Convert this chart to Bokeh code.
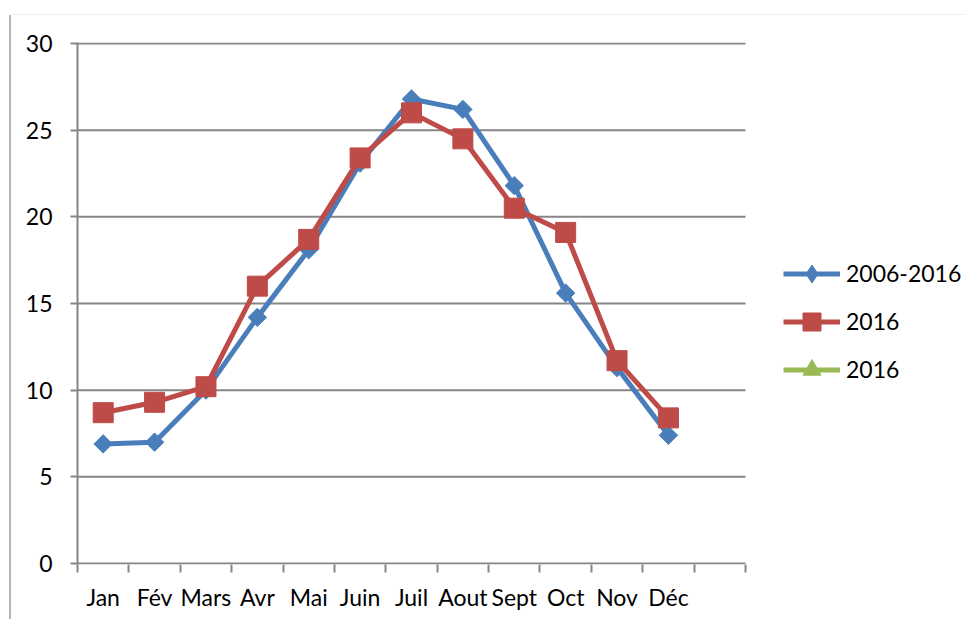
import math
from bokeh.plotting import figure
from bokeh.models import Range1d, FixedTicker, Legend, LegendItem, ColumnDataSource
from bokeh.embed import file_html
from bokeh.resources import INLINE

months = ["Jan", "Fév", "Mars", "Avr", "Mai", "Juin", "Juil", "Aout", "Sept", "Oct", "Nov", "Déc"]
series_2006_2016 = [6.9, 7.0, 10.0, 14.2, 18.1, 23.1, 26.8, 26.2, 21.8, 15.6, 11.3, 7.4]
series_2016 = [8.7, 9.3, 10.2, 16.0, 18.7, 23.4, 26.0, 24.5, 20.5, 19.1, 11.7, 8.4]
series_labels = ["2006-2016", "2016", "2016"]
y_ticks = [0, 5, 10, 15, 20, 25, 30]

BLUE = "#4A7EBB"
RED = "#BE4B48"
GREEN = "#98B954"
GRID = "#868686"
FONT = "Lato"
FS = "23px"

# layout (pixels)
W, H = 955, 604
BL, BT, FH = 66, 27, 522
SLOT_PX = 668 / 13
FW = W - BL
n_slots = len(months) + 1
x_end = -0.5 + FW / SLOT_PX
y_pad = 0.06

xs = list(range(len(months)))
x_lo, x_hi = -0.5, n_slots - 0.5

p = figure(width=W, height=H, output_backend="svg", toolbar_location=None,
           x_range=Range1d(x_lo, x_end), y_range=Range1d(y_ticks[0] - y_pad, y_ticks[-1] + y_pad),
           min_border_left=BL, min_border_right=0, min_border_top=BT,
           min_border_bottom=H - BT - FH)
p.styles = {"transform": "translate(11px, 15px)",
            "box-shadow": "-2px 0 0 0 #b4b4b4, 0 -1px 0 0 #efefef"}
p.outline_line_color = None
p.background_fill_color = "white"

# horizontal gridlines limited to the category slots
p.segment(x0=[x_lo] * len(y_ticks), x1=[x_hi] * len(y_ticks), y0=y_ticks, y1=y_ticks,
          line_color=GRID, line_width=2)

src = ColumnDataSource(dict(x=xs, a=series_2006_2016, b=series_2016))

blue_line = p.line("x", "a", source=src, line_color=BLUE, line_width=5, line_join="round")
p.scatter("x", "a", source=src, marker="square", angle=math.pi / 4, size=13,
          fill_color=BLUE, line_color=BLUE)
red_line = p.line("x", "b", source=src, line_color=RED, line_width=5, line_join="round")
red_pts = p.scatter("x", "b", source=src, marker="square", size=20, fill_color=RED, line_color=RED)

# legend-only glyphs (no visible data)
nan = float("nan")
blue_leg = p.scatter([nan], [nan], marker="diamond", fill_color=BLUE, line_color=BLUE)
green_line = p.line([nan], [nan], line_color=GREEN, line_width=5)
green_leg = p.scatter([nan], [nan], marker="triangle", fill_color=GREEN, line_color=GREEN)

legend = Legend(items=[
    LegendItem(label=series_labels[0], renderers=[blue_line, blue_leg]),
    LegendItem(label=series_labels[1], renderers=[red_line, red_pts]),
    LegendItem(label=series_labels[2], renderers=[green_line, green_leg]),
], location=(706, 172.5))
legend.glyph_width = 57
legend.glyph_height = 45
legend.label_standoff = 6
legend.spacing = 3
legend.padding = 0
legend.margin = 0
legend.border_line_color = None
legend.background_fill_alpha = 0
legend.label_text_font = FONT
legend.label_text_font_size = FS
legend.label_text_color = "black"
p.add_layout(legend, "center")

# axes
xa = p.xaxis[0]
xa.ticker = FixedTicker(ticks=xs, minor_ticks=[i - 0.5 for i in range(n_slots + 1)])
xa.major_label_overrides = {i: m for i, m in enumerate(months)}
xa.major_tick_out = 0
xa.major_tick_in = 0
xa.minor_tick_out = 8
xa.minor_tick_in = 0
xa.minor_tick_line_color = GRID
xa.minor_tick_line_width = 2
xa.axis_line_color = None
xa.major_label_standoff = 10
xa.major_label_text_font = FONT
xa.major_label_text_font_size = FS
xa.major_label_text_color = "black"

ya = p.yaxis[0]
ya.ticker = FixedTicker(ticks=y_ticks)
ya.major_tick_out = 7
ya.major_tick_in = 0
ya.minor_tick_out = 0
ya.minor_tick_in = 0
ya.major_tick_line_color = GRID
ya.major_tick_line_width = 2
ya.axis_line_color = GRID
ya.axis_line_width = 2
ya.major_label_standoff = 18
ya.major_label_text_font = FONT
ya.major_label_text_font_size = FS
ya.major_label_text_color = "black"

p.xgrid.visible = False
p.ygrid.visible = False

open("out.html", "w").write(file_html(p, INLINE))
